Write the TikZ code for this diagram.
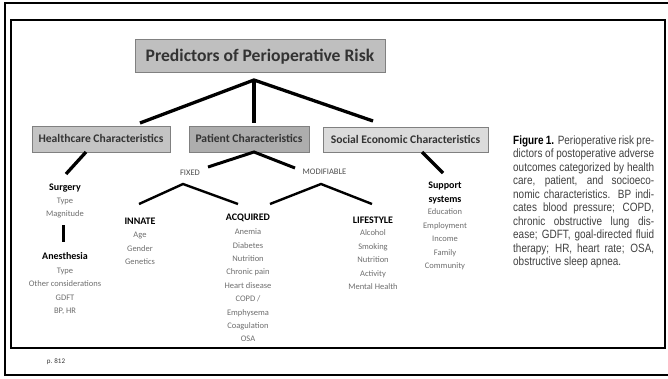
\documentclass[tikz,border=0pt]{standalone}
\usepackage{fontspec}
\setmainfont{Carlito}
\newfontfamily\capfont[FakeStretch=0.83]{Liberation Sans}

\definecolor{titlefill}{HTML}{BFBFBF}
\definecolor{hcfill}{HTML}{C4C4C4}
\definecolor{pcfill}{HTML}{ADADAD}
\definecolor{scfill}{HTML}{DBDBDB}
\definecolor{boxline}{HTML}{808080}
\definecolor{itemgray}{HTML}{6E6E6E}
\definecolor{capgray}{HTML}{404040}

\begin{document}
\begin{tikzpicture}[x=1pt, y=-1pt,
    catbox/.style={draw=boxline, line width=0.8pt, inner sep=0pt, text=black!80, font=\fontsize{11.6}{14}\selectfont\bfseries, text height=7.5pt, text depth=0pt},
    head/.style={inner sep=0pt, font=\fontsize{10}{12}\selectfont\bfseries, text height=6.5pt, text depth=0pt},
    item/.style={inner sep=0pt, text=itemgray, font=\fontsize{8.5}{10}\selectfont, text height=5.5pt, text depth=0pt},
    branch/.style={inner sep=0pt, text=black!70, font=\fontsize{8.5}{10}\selectfont, text height=5.5pt, text depth=0pt},
    capline/.style={anchor=west, inner sep=0pt, text=capgray, font=\capfont\fontsize{12}{14}\selectfont, text height=8.6pt, text depth=0pt},
    stems/.style={line width=3.3pt},
    twigs/.style={line width=2.4pt}]
    \useasboundingbox (0,0) rectangle (668,378);
    \clip (0,0) rectangle (668,378);

    % frames
    \draw[line width=2.2pt] (5,3) rectangle (675,375);
    \draw[line width=2pt] (11,20) rectangle (665,348);

    % title
    \node[catbox, fill=titlefill, minimum width=250pt, minimum height=33pt, font=\fontsize{17.6}{20}\selectfont\bfseries, text height=11.3pt] (title) at (260,55.5) {Predictors of Perioperative Risk};

    % categories
    \node[catbox, fill=hcfill, minimum width=138pt, minimum height=26pt] (hc) at (101,139) {Healthcare Characteristics};
    \node[catbox, fill=pcfill, minimum width=120pt, minimum height=26pt] (pc) at (249,139) {Patient Characteristics};
    \node[catbox, fill=scfill, minimum width=165pt, minimum height=25pt] (sc) at (405.5,139.5) {Social Economic Characteristics};

    % title to categories
    \coordinate (top) at (254,80);
    \coordinate (hc-in) at (140,123);
    \coordinate (pc-in) at (254,123);
    \coordinate (sc-in) at (373,121);
    \draw[stems] (hc-in) -- (top) -- (sc-in);
    \draw[stems] (top) -- (pc-in);

    % healthcare
    \coordinate (hc-out) at (86,152);
    \coordinate (surg-in) at (66,174);
    \draw[stems] (hc-out) -- (surg-in);
    \node[head] (surg) at (65,187) {Surgery};
    \foreach \t [count=\i] in {Type, Magnitude}
        \node[item] (surg-\i) at (65,187+13.4*\i) {\t};
    \coordinate (surg-out) at (63,225);
    \coordinate (anes-in) at (63,242);
    \draw[line width=3pt] (surg-out) -- (anes-in);
    \node[head] (anes) at (65,256) {Anesthesia};
    \foreach \t [count=\i] in {Type, Other considerations, GDFT, {BP, HR}}
        \node[item] (anes-\i) at (65,257+13.5*\i) {\t};

    % patient
    \coordinate (pc-out) at (254,152);
    \coordinate (fixed-in) at (208,167);
    \coordinate (mod-in) at (295,168);
    \draw[line width=3pt] (fixed-in) -- (pc-out) -- (mod-in);
    \node[branch] (fixed) at (190,173) {FIXED};
    \node[branch] (mod) at (324.5,172) {MODIFIABLE};

    \coordinate (fixed-out) at (183,184);
    \coordinate (innate-in) at (139,204);
    \coordinate (acq-in) at (238,204);
    \draw[twigs] (innate-in) -- (fixed-out) -- (acq-in);
    \coordinate (mod-out) at (321,184);
    \coordinate (acq-in2) at (270,204);
    \coordinate (life-in) at (372,204);
    \draw[twigs] (acq-in2) -- (mod-out) -- (life-in);

    \node[head] (innate) at (140,221) {INNATE};
    \foreach \t [count=\i] in {Age, Gender, Genetics}
        \node[item] (innate-\i) at (140,221.5+13.5*\i) {\t};
    \node[head] (acq) at (248,217) {ACQUIRED};
    \foreach \t [count=\i] in {Anemia, Diabetes, Nutrition, Chronic pain, Heart disease, COPD /, Emphysema, Coagulation, OSA}
        \node[item] (acq-\i) at (248,218.6+13.4*\i) {\t};
    \node[head] (life) at (373,220) {LIFESTYLE};
    \foreach \t [count=\i] in {Alcohol, Smoking, Nutrition, Activity, Mental Health}
        \node[item] (life-\i) at (373,219.5+13.5*\i) {\t};

    % social economic
    \coordinate (sc-out) at (422,152);
    \coordinate (supp-in) at (443,173);
    \draw[stems] (sc-out) -- (supp-in);
    \node[inner sep=0pt, font=\fontsize{10}{14}\selectfont\bfseries, align=center, anchor=north] (supp) at (445,181.5) {Support\\systems};
    \foreach \t [count=\i] in {Education, Employment, Income, Family, Community}
        \node[item] (supp-\i) at (445,198.5+13.5*\i) {\t};

    % caption
    \foreach \ln [count=\i from 0] in {{{\bfseries\color{black}Figure 1.} Perioperative risk pre-}, {dictors of postoperative adverse}, {outcomes categorized by health}, {care, patient, and socioeco-}, {nomic characteristics. BP indi-}, {cates blood pressure; COPD,}, {chronic obstructive lung dis-}, {ease; GDFT, goal-directed fluid}, {therapy; HR, heart rate; OSA,}}
        \node[capline] (cap-\i) at (513,140+13.5*\i) {\makebox[141pt][s]{\ln}};
    \node[capline] (cap-9) at (513,261.5) {obstructive sleep apnea.};

    % page number
    \node[inner sep=0pt, font=\fontsize{7}{8}\selectfont, text=black!80] (page) at (56,362) {p. 812};
\end{tikzpicture}
\end{document}
